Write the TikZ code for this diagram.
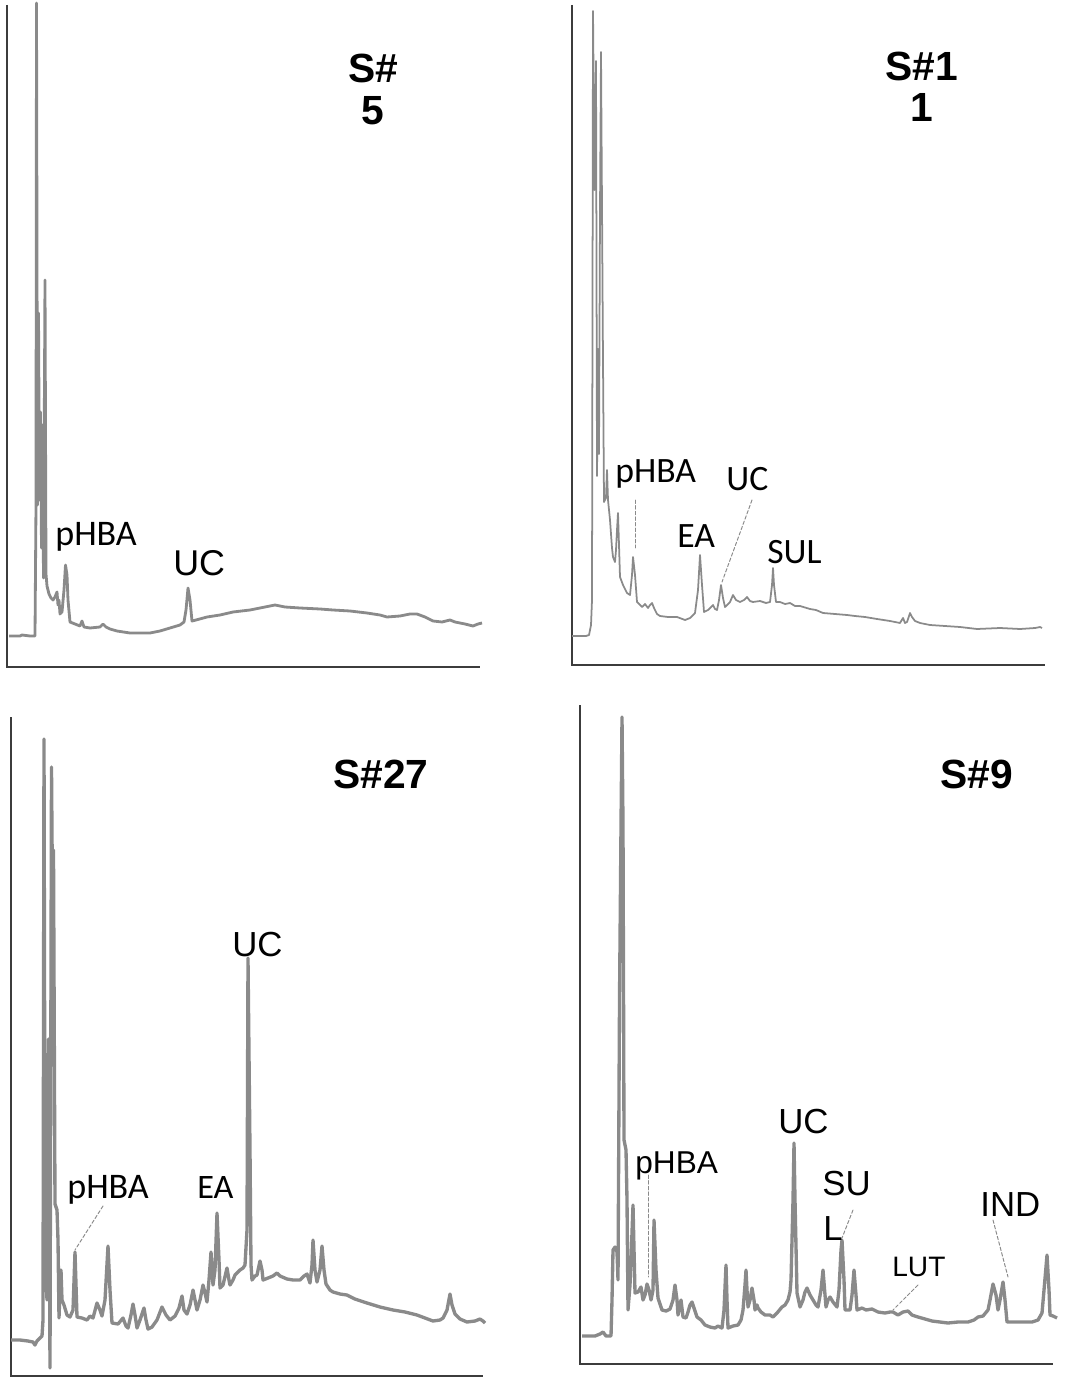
\documentclass[tikz,border=0pt]{standalone}
\usepackage{fontspec}
\usepackage{tkz-euclide}
\newfontfamily\arialfont{Liberation Sans}
\newfontfamily\califont{Carlito}
\definecolor{tracegray}{HTML}{8A8A8A}
\definecolor{axisgray}{HTML}{3C3C3C}
\tikzset{>=stealth}
\tikzset{
  trace/.style={draw=tracegray, line width=#1, line join=round},
  trace/.default=1.6pt,
  axisline/.style={draw=axisgray, line width=0.8pt},
  leader/.style={draw=tracegray, line width=0.55pt, dash pattern=on 2pt off 1.2pt},
  title/.style={font=\arialfont\bfseries\fontsize{23.2}{24}\selectfont, inner sep=0pt, anchor=base},
  lblA/.style={font=\arialfont\fontsize{#1}{#1}\selectfont, inner sep=0pt, anchor=base west},
  lblA/.default=19.8,
  lblC/.style={font=\califont\fontsize{#1}{#1}\selectfont, inner sep=0pt, anchor=base west},
  lblC/.default=20.3,
}

\begin{document}
\begin{tikzpicture}[x=0.02cm, y=-0.02cm]
    \useasboundingbox (0,0) rectangle (1069,1381);

    % S#5
    \draw[axisline] (7,5) -- (7,667) -- (480,667);
    \draw[trace] plot coordinates {(9,636) (20,636) (22,635) (30,636) (35,636) (36,505) (36.5,3) (37.5,505) (38.5,313) (39.5,500) (40.5,412) (41.5,548) (42.5,425) (43.5,578) (45,280) (46,574) (47,586) (49,594) (51,598) (53,600) (55,597) (57,592) (58,605) (59,600) (60,614) (62,612) (64,590) (65.5,565) (67,575) (68,600) (70,622) (75,624) (80,626) (82,621) (84,627) (90,628) (100,627) (103,624) (106,627) (110,629) (117,631) (130,633) (143,633) (150,633) (160,631) (170,628) (180,625) (184,622) (186,610) (188,588) (190,600) (192,621) (196,620) (207,617) (220,615) (233,612) (250,610) (265,607) (275,605) (285,607) (300,608) (320,609) (333,610) (350,611) (367,613) (380,615) (387,617) (400,616) (410,614) (417,614) (425,617) (433,621) (442,622) (450,620) (455,622) (465,624) (473,626) (478,624) (482,623)};
    \node[title] (tA1) at (373,83) {S\#};
    \node[title] (tA2) at (373,125) {5};
    \node[lblC=20.5] (pA) at (55,545) {pHBA};
    \node[lblA=20.4] (uA) at (173,575) {UC};

    % S#11
    \draw[axisline] (572,5) -- (572,665) -- (1045,665);
    \draw[trace=1pt] plot coordinates {(572,636) (586,636) (589,635) (591,625) (592,600) (593,11) (594.5,190) (596,61) (597,476) (598,349) (599,454) (600,210) (601,52) (603,362) (604,502) (606,498) (607,470) (608,500) (610,520) (612,548) (613,557) (615,562) (616,550) (617,530) (618,513) (619,545) (620,577) (623,585) (627,593) (630,595) (632,575) (633,557) (635,575) (637,602) (640,605) (642,607) (645,604) (648,608) (650,605) (652,603) (654,608) (657,614) (660,616) (668,617) (677,617) (685,620) (690,618) (695,613) (698,590) (700,555) (702,585) (704,612) (708,610) (713,605) (715,609) (717,610) (719,600) (721,585) (723,598) (725,607) (730,602) (733,595) (736,600) (740,602) (744,600) (747,597) (750,601) (753,602) (760,601) (766,603) (770,602) (772,585) (773,568) (774,585) (776,602) (780,602) (785,604) (790,603) (795,606) (800,606) (810,609) (816,610) (823,613) (835,614) (847,615) (855,616) (865,617) (877,619) (890,621) (900,623) (903,618) (905,623) (907,622) (910,613) (912,617) (915,621) (920,623) (930,625) (945,626) (960,627) (977,629) (1000,628) (1020,629) (1035,628) (1040,627) (1042,628)};
    \node[title] (tB1) at (922,81) {S\#1};
    \node[title] (tB2) at (922,122) {1};
    \node[lblC] (pB) at (615,482) {pHBA};
    \node[lblC] (uB) at (726,490) {UC};
    \node[lblC] (eB) at (677,547) {EA};
    \node[lblC] (sB) at (767,563) {SUL};
    \tkzDefPoints{635/500/pB1, 635/548/pB2, 752/500/uB1, 722/582/uB2}
    \tkzDrawSegment[leader](pB1,pB2)
    \tkzDrawSegment[leader](uB1,uB2)

    % S#27
    \draw[axisline] (11,717) -- (11,1376) -- (483,1376);
    \draw[trace=1.9pt] plot coordinates {(11,1340) (20,1340) (28,1341) (33,1342) (35,1345) (37,1341) (40,1338) (42,1336) (43,1320) (44,739) (45,1190) (46,1276) (47,1300) (48.5,1039) (50,1368) (51.5,767) (52.5,900) (53.5,850) (55,1204) (57,1210) (58,1240) (59,1318) (60,1290) (61,1270) (62,1300) (64,1305) (67,1315) (70,1317) (73,1310) (75,1252) (77,1317) (82,1318) (87,1320) (90,1316) (93,1318) (97,1303) (100,1310) (102,1316) (105,1300) (108,1246) (110,1290) (112,1323) (118,1324) (123,1318) (126,1326) (128,1328) (131,1315) (133,1304) (135,1315) (137,1328) (140,1320) (144,1308) (146,1320) (148,1329) (152,1327) (157,1320) (162,1307) (166,1315) (170,1320) (175,1316) (179,1308) (182,1296) (184,1310) (187,1314) (190,1305) (193,1290) (195,1300) (197,1310) (200,1300) (203,1285) (205,1293) (207,1302) (209,1280) (211,1252) (213,1285) (215,1270) (217,1213) (219,1260) (220,1288) (223,1285) (227,1268) (229,1280) (230,1285) (233,1280) (235,1275) (238,1272) (240,1270) (243,1268) (245,1265) (247,1230) (248,958) (250,1150) (251,1265) (252,1280) (255,1276) (257,1275) (260,1261) (262,1270) (263,1280) (268,1278) (273,1276) (277,1273) (280,1276) (287,1279) (293,1280) (300,1280) (304,1276) (307,1274) (310,1283) (312,1265) (313,1240) (315,1270) (317,1282) (320,1270) (322,1246) (324,1270) (326,1284) (330,1290) (333,1292) (340,1294) (347,1295) (355,1299) (367,1303) (380,1307) (393,1310) (405,1312) (417,1315) (425,1318) (433,1321) (440,1320) (443,1318) (447,1310) (450,1294) (452,1305) (455,1314) (460,1319) (467,1322) (475,1321) (480,1319) (483,1321) (485,1323)};
    \node[title, anchor=base west] (tC) at (333,788) {S\#27};
    \node[lblC=20.5] (pC) at (67,1198) {pHBA};
    \node[lblC=19.5] (eC) at (197,1198) {EA};
    \node[lblA] (uC) at (232,956) {UC};
    \tkzDefPoints{103/1206/pC1, 75/1250/pC2}
    \tkzDrawSegment[leader](pC1,pC2)

    % S#9
    \draw[axisline] (580,705) -- (580,1364) -- (1053,1364);
    \draw[trace=1.9pt] plot coordinates {(582,1336) (595,1336) (600,1334) (603,1332) (606,1336) (611,1336) (612,1300) (613,1250) (615,1247) (617,1252) (618,1280) (619.5,1000) (621,826) (622,717) (623,826) (624,1140) (626,1150) (627,1200) (628,1310) (630,1285) (631,1260) (633,1205) (635,1293) (638,1292) (641,1287) (643,1300) (645,1295) (647,1284) (649,1290) (651,1300) (653,1290) (654,1220) (656,1270) (658,1298) (662,1310) (666,1311) (670,1309) (673,1300) (675,1285) (677,1300) (678,1315) (680,1305) (681,1300) (683,1317) (686,1318) (688,1312) (690,1305) (692,1302) (694,1308) (697,1317) (701,1320) (705,1325) (710,1327) (715,1328) (718,1326) (722,1328) (724,1310) (726,1265) (727,1300) (728,1328) (733,1326) (738,1325) (741,1320) (743,1310) (745,1285) (746,1270) (747,1290) (748,1307) (750,1300) (752,1288) (754,1300) (755,1310) (757,1305) (758,1308) (761,1312) (765,1315) (770,1315) (773,1317) (777,1313) (782,1307) (785,1305) (788,1300) (790,1292) (791,1280) (793,1200) (794,1143) (795,1200) (797,1293) (800,1307) (803,1300) (805,1292) (807,1288) (810,1295) (813,1300) (816,1305) (818,1307) (821,1290) (823,1270) (825,1295) (826,1307) (828,1300) (830,1297) (833,1302) (837,1307) (839,1290) (841,1250) (842,1240) (844,1280) (845,1310) (850,1310) (852,1295) (854,1270) (856,1295) (857,1310) (862,1308) (866,1310) (872,1309) (878,1312) (885,1313) (890,1312) (893,1312) (898,1315) (903,1312) (908,1311) (912,1315) (918,1317) (925,1319) (932,1321) (940,1322) (948,1323) (958,1322) (968,1322) (974,1320) (978,1317) (983,1316) (988,1310) (990,1300) (993,1284) (996,1295) (998,1310) (1000,1300) (1003,1282) (1005,1300) (1007,1322) (1015,1322) (1025,1322) (1032,1322) (1038,1320) (1042,1313) (1044,1290) (1047,1255) (1049,1290) (1050,1315) (1053,1316) (1057,1318)};
    \node[title, anchor=base west] (tD) at (940,788) {S\#9};
    \node[lblA=18] (pD) at (635,1173) {pHBA};
    \node[lblA] (uD) at (778,1133) {UC};
    \node[lblA] (sD1) at (822,1195) {SU};
    \node[lblA] (sD2) at (823,1240) {L};
    \node[lblA=16] (lD) at (892,1276) {LUT};
    \node[lblA] (iD) at (980,1216) {IND};
    \tkzDefPoints{648/1175/pD1, 648/1277/pD2, 853/1210/sD3, 842/1238/sD4}
    \tkzDefPoints{918/1285/lD1, 893/1310/lD2, 993/1220/iD1, 1008/1277/iD2}
    \tkzDrawSegment[leader](pD1,pD2)
    \tkzDrawSegment[leader](sD3,sD4)
    \tkzDrawSegment[leader](lD1,lD2)
    \tkzDrawSegment[leader](iD1,iD2)
\end{tikzpicture}
\end{document}
